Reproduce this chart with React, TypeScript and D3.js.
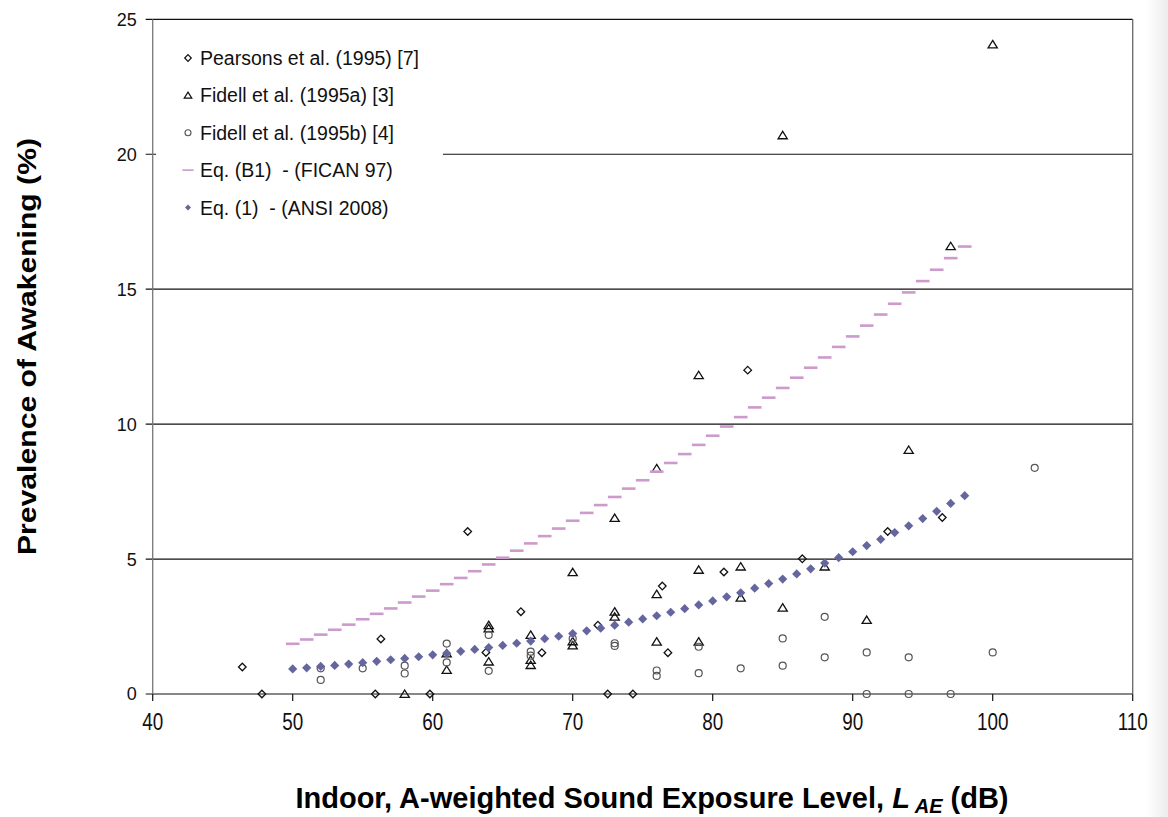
import * as d3 from "d3";

// Pearsons et al. (1995) [7]
const pearsonsX = [46.4, 47.8, 55.9, 56.3, 59.8, 62.5, 63.8, 66.3, 67.8, 71.8, 72.5, 74.3, 76.4, 76.8, 80.8, 82.5, 86.4, 92.5, 96.4];
const pearsonsY = [1.0, 0, 0, 2.04, 0, 6.02, 1.54, 3.05, 1.53, 2.55, 0, 0, 4.0, 1.53, 4.52, 12.0, 5.01, 6.02, 6.54];

// Fidell et al. (1995a) [3]
const fidellAX = [58, 61, 61, 64, 64, 64, 67, 67, 67, 70, 70, 70, 73, 73, 73, 76, 76, 76, 79, 79, 79, 82, 82, 85, 85, 88, 91, 94, 97, 100];
const fidellAY = [0, 1.5, 0.89, 2.55, 2.43, 1.2, 2.19, 1.26, 1.07, 4.51, 1.95, 1.8, 6.52, 3.05, 2.86, 8.36, 3.7, 1.94, 11.81, 4.6, 1.94, 4.72, 3.57, 20.7, 3.2, 4.72, 2.74, 9.04, 16.59, 24.07];

// Fidell et al. (1995b) [4]
const fidellBX = [52, 52, 55, 58, 58, 61, 61, 64, 64, 67, 67, 70, 73, 73, 76, 76, 79, 79, 82, 85, 85, 88, 88, 91, 91, 94, 94, 97, 100, 103];
const fidellBY = [0.95, 0.52, 0.95, 1.05, 0.76, 1.87, 1.17, 2.19, 0.86, 1.57, 1.42, 2.05, 1.88, 1.78, 0.87, 0.67, 1.75, 0.77, 0.95, 2.06, 1.05, 2.86, 1.36, 1.54, 0, 1.36, 0, 0, 1.54, 8.38];

// Eq. (B1) FICAN 97 and Eq. (1) ANSI 2008, one point per dB from 50 to 98
const curveX = d3.range(50, 99);
const ficanY = [1.86, 2.02, 2.2, 2.38, 2.57, 2.77, 2.97, 3.17, 3.39, 3.61, 3.83, 4.07, 4.3, 4.55, 4.8, 5.05, 5.31, 5.58, 5.85, 6.13, 6.42, 6.71, 7.0, 7.3, 7.61, 7.92, 8.24, 8.56, 8.89, 9.23, 9.57, 9.91, 10.26, 10.62, 10.98, 11.34, 11.72, 12.09, 12.47, 12.86, 13.25, 13.65, 14.06, 14.46, 14.88, 15.3, 15.72, 16.15, 16.58];
const ansiY = [0.93, 0.97, 1.02, 1.06, 1.11, 1.16, 1.21, 1.27, 1.32, 1.38, 1.45, 1.51, 1.58, 1.65, 1.72, 1.8, 1.88, 1.96, 2.05, 2.14, 2.24, 2.34, 2.44, 2.55, 2.66, 2.78, 2.9, 3.03, 3.16, 3.3, 3.45, 3.6, 3.75, 3.92, 4.09, 4.26, 4.45, 4.64, 4.85, 5.05, 5.27, 5.5, 5.73, 5.98, 6.23, 6.5, 6.77, 7.06, 7.35];

const xTicks = [40, 50, 60, 70, 80, 90, 100, 110];
const yTicks = [0, 5, 10, 15, 20, 25];

const legendLabels = [
  "Pearsons et al. (1995) [7]",
  "Fidell et al. (1995a) [3]",
  "Fidell et al. (1995b) [4]",
  "Eq. (B1)\u00a0 - (FICAN 97)",
  "Eq. (1)\u00a0 - (ANSI 2008)",
];

const FONT = "'Liberation Sans', Arial, sans-serif";
const ANSI_COLOR = "#66669f";
const FICAN_COLOR = "#cc9acc";

function diamond(r: number) {
  return `M0,${-r}L${r},0L0,${r}L${-r},0Z`;
}
function triangle(r: number) {
  return `M0,${-r}L${r * 1.15},${r * 0.85}L${-r * 1.15},${r * 0.85}Z`;
}

export default function App() {
  const width = 1168;
  const height = 817;
  const left = 152.7;
  const right = 1132.7;
  const top = 19.3;
  const bottom = 694;

  const x = d3.scaleLinear().domain([40, 110]).range([left, right]);
  const y = d3.scaleLinear().domain([0, 25]).range([bottom, top]);

  const legendY = d3.scaleLinear().domain([0, 4]).range([58, 207.5]);

  return (
    <svg
      width={width}
      height={height}
      style={{ position: "absolute", left: 0, top: 0, background: "#fff" }}
      fontFamily={FONT}
    >
      <defs>
        <linearGradient id="edge" x1="0" x2="1" y1="0" y2="0">
          <stop offset="0" stopColor="#ffffff" />
          <stop offset="1" stopColor="#ececec" />
        </linearGradient>
      </defs>
      <rect x={1146} y={0} width={22} height={height} fill="url(#edge)" />

      {/* gridlines */}
      {yTicks.map((t) => (
        <line key={"g" + t} x1={left - 7} x2={right} y1={y(t)} y2={y(t)} stroke="#111" strokeWidth={1.2} />
      ))}
      <line x1={left} x2={left} y1={top} y2={bottom} stroke="#777" strokeWidth={1.3} />
      <line x1={right} x2={right} y1={top} y2={bottom} stroke="#666" strokeWidth={1.3} />
      {xTicks.map((t) => (
        <line key={"xt" + t} x1={x(t)} x2={x(t)} y1={bottom} y2={bottom + 7} stroke="#111" strokeWidth={1.2} />
      ))}

      {/* tick labels */}
      {yTicks.map((t) => (
        <text key={"yl" + t} x={left - 16} y={y(t)} dy="0.36em" textAnchor="end" fontSize={18} fill="#111">
          {t}
        </text>
      ))}
      {xTicks.map((t) => (
        <text
          key={"xl" + t}
          transform={`translate(${x(t)},${bottom + 36}) scale(0.82,1)`}
          textAnchor="middle"
          fontSize={23}
          fill="#111"
        >
          {t}
        </text>
      ))}

      {/* legend box */}
      <rect x={156} y={34} width={287} height={192} fill="#fff" />

      {/* Pearsons */}
      {pearsonsX.map((v, i) => (
        <path key={"p" + i} d={diamond(3.8)} transform={`translate(${x(v)},${y(pearsonsY[i])})`} fill="none" stroke="#111" strokeWidth={1.3} />
      ))}
      {/* Fidell a */}
      {fidellAX.map((v, i) => (
        <path key={"a" + i} d={triangle(4)} transform={`translate(${x(v)},${y(fidellAY[i])})`} fill="none" stroke="#111" strokeWidth={1.3} />
      ))}
      {/* Fidell b */}
      {fidellBX.map((v, i) => (
        <circle key={"b" + i} cx={x(v)} cy={y(fidellBY[i])} r={3.5} fill="none" stroke="#555" strokeWidth={1.2} />
      ))}
      {/* FICAN dashes */}
      {curveX.map((v, i) => (
        <rect key={"f" + i} x={x(v) - 6.8} y={y(ficanY[i]) - 1.3} width={13.6} height={2.6} fill={FICAN_COLOR} />
      ))}
      {/* ANSI diamonds */}
      {curveX.map((v, i) => (
        <path key={"n" + i} d={diamond(4.6)} transform={`translate(${x(v)},${y(ansiY[i])})`} fill={ANSI_COLOR} />
      ))}

      {/* legend */}
      {legendLabels.map((label, i) => {
        const ly = legendY(i);
        let marker;
        if (i === 0) marker = <path d={diamond(3.3)} fill="none" stroke="#111" strokeWidth={1.2} />;
        else if (i === 1) marker = <path d={triangle(3.3)} fill="none" stroke="#111" strokeWidth={1.2} />;
        else if (i === 2) marker = <circle r={3} fill="none" stroke="#555" strokeWidth={1.1} />;
        else if (i === 3) marker = <rect x={-5.7} y={-0.8} width={11.4} height={1.6} fill={FICAN_COLOR} />;
        else marker = <path d={diamond(3)} fill={ANSI_COLOR} />;
        return (
          <g key={"l" + i}>
            <g transform={`translate(188,${ly})`}>{marker}</g>
            <text x={200} y={ly} dy="0.36em" fontSize={19.5} fill="#111">
              {label}
            </text>
          </g>
        );
      })}

      {/* axis titles */}
      <text
        transform={`translate(36,${(138 + 555) / 2}) rotate(-90)`}
        textAnchor="middle"
        fontSize={26}
        fontWeight="bold"
        fill="#000"
        textLength={417}
        lengthAdjust="spacingAndGlyphs"
      >
        Prevalence of Awakening (%)
      </text>
      <text x={652} y={808} textAnchor="middle" fontSize={29} fontWeight="bold" fill="#000">
        Indoor, A-weighted Sound Exposure Level,{" "}
        <tspan fontStyle="italic">L</tspan>
        <tspan fontSize={20} dy={5} fontStyle="italic"> AE</tspan>
        <tspan dy={-5}> (dB)</tspan>
      </text>
    </svg>
  );
}
